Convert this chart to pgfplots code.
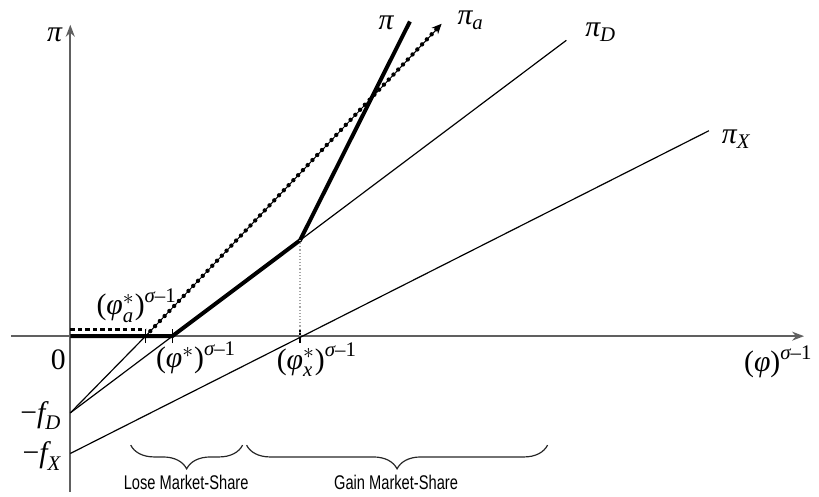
\documentclass[border=0pt]{standalone}
\usepackage{amsmath}
\usepackage{fontspec}
\setmainfont{Liberation Serif}
\newfontfamily\narrowsans[FakeStretch=0.74]{Liberation Sans}
\usepackage{pgfplots}
\pgfplotsset{compat=1.18}
\usetikzlibrary{arrows.meta,decorations.pathreplacing}

% italic Greek/Latin letters taken from the text font
\newcommand{\ti}[1]{\text{\itshape #1}}
\newcommand{\sm}{^{\ti{σ}\text{–1}}}
\newcommand{\lab}{\fontsize{15}{17}\selectfont}

\begin{document}
\begin{tikzpicture}
\begin{axis}[
  x=50pt, y=50pt,
  xmin=-0.6, xmax=7.41, ymin=-1.575, ymax=3.145,
  axis lines=middle,
  axis line style={gray!75!black, line width=1pt},
  every inner x axis line/.append style={-{Stealth[length=6pt,width=4.5pt]}},
  every inner y axis line/.append style={-{Stealth[length=6pt,width=4.5pt]}},
  xtick={0.76,1.03,2.32}, xticklabels={},
  ytick=\empty,
  tick align=center, major tick length=7pt,
  tick style={black, line width=0.6pt},
  clip=false,
]
% profit line for domestic sales
\addplot[black, line width=0.6pt] coordinates {(0,-0.775) (5.01,2.988)};
% profit line for export sales
\addplot[black, line width=0.6pt] coordinates {(0,-1.185) (6.45,2.075)};
% autarky profit line
\addplot[black, line width=0.6pt] coordinates {(0,-0.775) (0.76,0)};
\addplot[black, line width=0.5pt] coordinates {(0.76,0) (3.72,3.12)};
\addplot[black, line width=2.2pt, line cap=round, dash pattern=on 0pt off 3.5pt,
  -{Stealth[length=5pt,width=4.5pt]}] coordinates {(0.76,0) (3.75,3.155)};
\addplot[black, line width=1.7pt, dash pattern=on 2.2pt off 1.6pt] coordinates {(0,0.068) (0.76,0.068)};
% total profit
\addplot[black, line width=2pt, line join=round] coordinates {(0,0) (1.03,0) (2.32,0.968) (3.43,3.178)};
% export cutoff guide
\addplot[gray!70, line width=0.6pt, densely dotted] coordinates {(2.32,0) (2.32,0.968)};

% labels
\node[anchor=center] at (axis cs:-0.16,3.045) {\lab$\ti{π}$};
\node[anchor=center] at (axis cs:3.19,3.16) {\lab$\ti{π}$};
\node[anchor=west] at (axis cs:3.84,3.19) {\lab$\ti{π}_{\ti{a}}$};
\node[anchor=west] at (axis cs:5.13,3.07) {\lab$\ti{π}_{\ti{D}}$};
\node[anchor=west] at (axis cs:6.51,1.99) {\lab$\ti{π}_{\ti{X}}$};
\node[anchor=center] at (axis cs:-0.12,-0.24) {\lab 0};
\node[anchor=east] at (axis cs:-0.02,-0.80) {\lab$\text{−}\ti{f}_{\ti{D}}$};
\node[anchor=east] at (axis cs:-0.02,-1.21) {\lab$\text{−}\ti{f}_{\ti{X}}$};
\node[anchor=center] at (axis cs:0.67,0.31) {\lab$\text{(}\ti{φ}^{*}_{\ti{a}}\text{)}\sm$};
\node[anchor=center] at (axis cs:1.27,-0.22) {\lab$\text{(}\ti{φ}^{*}\text{)}\sm$};
\node[anchor=center] at (axis cs:2.49,-0.24) {\lab$\text{(}\ti{φ}^{*}_{\ti{x}}\text{)}\sm$};
\node[anchor=center] at (axis cs:7.15,-0.26) {\lab$\text{(}\ti{φ}\text{)}\sm$};

% market-share regions
\draw[gray!30!black, line width=0.6pt, decorate, decoration={brace, mirror, amplitude=12pt}]
  (axis cs:0.61,-1.1) -- (axis cs:1.74,-1.1);
\draw[gray!30!black, line width=0.6pt, decorate, decoration={brace, mirror, amplitude=12pt}]
  (axis cs:1.78,-1.1) -- (axis cs:4.82,-1.1);
\node[anchor=center] at (axis cs:1.17,-1.475) {\narrowsans\fontsize{10}{12}\selectfont Lose Market-Share};
\node[anchor=center] at (axis cs:3.29,-1.475) {\narrowsans\fontsize{10}{12}\selectfont Gain Market-Share};

% picture frame
\path (axis cs:-0.71,-1.575) rectangle (axis cs:7.48,3.395);
\end{axis}
\end{tikzpicture}
\end{document}
